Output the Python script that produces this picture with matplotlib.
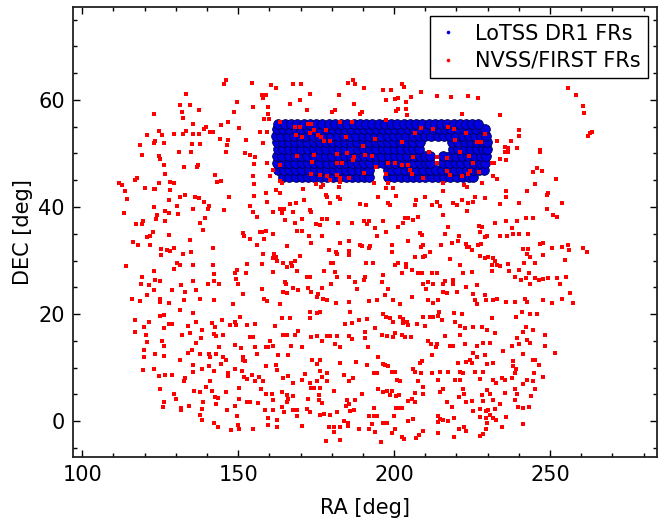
import matplotlib.pyplot as plt
from matplotlib.ticker import MultipleLocator

# LoTSS DR1 FRs: the dense HETDEX block, one list of RA per DEC row
lotss_dec_rows = [45.6, 46.9, 48.2, 49.5, 50.8, 52.1, 53.3, 54.5, 55.5]
lotss_ra_456 = [164.5, 166.4, 168.5, 170.4, 172.5, 174.4, 176.5, 178.6, 180.5, 182.4, 184.5, 186.6, 188.4, 190.5,
                191.8, 198.0, 200.0, 202.1, 204.0, 206.1, 208.0, 210.0, 212.1, 214.0, 216.1, 218.0, 220.1, 222.0,
                224.1, 225.3]
lotss_ra_469 = [162.8, 164.7, 166.6, 168.7, 170.6, 172.7, 174.6, 176.7, 178.6, 180.7, 182.6, 184.7, 186.6, 188.7,
                190.6, 192.0, 197.9, 199.4, 201.3, 203.4, 205.3, 207.4, 209.3, 211.4, 213.3, 215.4, 217.3, 219.4,
                221.3, 223.4, 225.3, 227.3, 228.8]
lotss_ra_482 = [162.4, 164.3, 166.4, 168.3, 170.4, 172.3, 174.4, 176.3, 178.4, 180.3, 182.4, 184.3, 186.4, 188.3,
                190.4, 192.3, 194.4, 196.3, 198.4, 200.3, 202.4, 204.3, 206.4, 208.3, 210.2, 211.4, 215.8, 217.6,
                219.7, 221.6, 223.7, 225.6, 227.7, 229.3]
lotss_ra_495 = [162.3, 164.2, 166.3, 168.2, 170.3, 172.2, 174.3, 176.2, 178.3, 180.2, 182.3, 184.2, 186.3, 188.2,
                190.3, 192.2, 194.3, 196.2, 198.3, 200.2, 202.3, 204.2, 206.3, 208.2, 210.0, 211.4, 215.8, 217.9,
                219.8, 221.9, 223.8, 225.9, 227.8, 229.6]
lotss_ra_508 = [162.8, 164.5, 166.2, 168.3, 170.2, 172.3, 174.2, 176.3, 178.2, 180.3, 182.2, 184.3, 186.2, 188.3,
                190.2, 192.3, 194.2, 196.3, 198.2, 200.3, 202.2, 204.3, 206.2, 208.0, 218.8, 220.5, 222.6, 224.5,
                226.6, 228.5, 229.8]
lotss_ra_521 = [162.6, 164.3, 166.2, 168.1, 170.2, 172.1, 174.2, 176.1, 178.2, 180.1, 182.2, 184.1, 186.2, 188.1,
                190.2, 192.1, 194.2, 196.1, 198.2, 200.1, 202.2, 204.1, 206.2, 208.3, 218.6, 220.5, 222.6, 224.5,
                226.6, 228.5, 229.8]
lotss_ra_533 = [162.0, 163.9, 166.0, 167.9, 170.0, 171.9, 174.0, 175.9, 178.0, 179.9, 182.0, 183.9, 186.0, 187.9,
                190.0, 191.9, 194.0, 195.9, 198.0, 199.9, 202.0, 203.9, 206.0, 207.9, 210.0, 211.9, 214.0, 215.9,
                218.0, 219.9, 222.0, 223.9, 226.0, 227.9, 229.6]
lotss_ra_545 = [162.3, 164.4, 166.3, 168.4, 170.3, 172.4, 174.3, 176.4, 178.3, 180.4, 182.3, 184.4, 186.3, 188.4,
                190.3, 192.4, 194.3, 196.4, 198.3, 200.4, 202.3, 204.4, 206.3, 208.4, 210.3, 212.4, 214.3, 216.4,
                218.3, 220.4, 222.3, 224.4, 226.3, 228.2, 229.3]
lotss_ra_555 = [162.8, 165.0, 167.1, 169.0, 171.1, 173.0, 175.1, 177.0, 179.1, 181.0, 183.1, 185.0, 187.1, 189.0,
                191.1, 193.0, 195.1, 197.0, 199.1, 201.0, 203.1, 205.0, 207.1, 209.0, 211.1, 213.0, 215.1, 217.0,
                219.1, 221.0, 223.1, 225.0, 227.0]
lotss_ra_rows = [lotss_ra_456, lotss_ra_469, lotss_ra_482, lotss_ra_495, lotss_ra_508,
                 lotss_ra_521, lotss_ra_533, lotss_ra_545, lotss_ra_555]

# NVSS/FIRST FRs as (RA, DEC) pairs, split by sky band
nvss_north = [(146.2, 63.7), (145.5, 63.0), (154.4, 63.2), (160.5, 62.8), (162.1, 62.3), (167.7, 63.0), (170.1, 63.0),
              (185.2, 63.2), (186.8, 63.7), (187.5, 63.0), (190.4, 62.3), (202.5, 63.0), (203.3, 62.5), (196.3, 61.9),
              (199.0, 61.9), (133.4, 61.2), (173.1, 61.2), (182.2, 60.9), (157.8, 60.9), (158.9, 60.9), (158.1, 60.3),
              (208.6, 61.4), (213.7, 60.7), (218.3, 60.5), (223.8, 60.7), (227.0, 60.3), (205.4, 60.5), (197.4, 60.0),
              (200.4, 60.1), (201.1, 60.4), (203.8, 59.7), (149.6, 59.7), (169.9, 60.0), (166.5, 59.2), (187.0, 59.2),
              (131.4, 59.1), (134.6, 59.1), (154.7, 58.6), (159.7, 58.6), (137.6, 58.2), (172.2, 58.2), (180.9, 58.2),
              (180.2, 57.7), (201.2, 58.4), (200.5, 57.9), (203.8, 58.3), (260.7, 58.9), (258.2, 60.9), (255.6, 62.3),
              (132.1, 57.8), (132.3, 56.6), (122.9, 57.3), (148.8, 57.8), (159.7, 57.3), (189.6, 57.8), (189.0, 57.3),
              (204.0, 57.2), (221.7, 57.3), (233.9, 57.1), (261.0, 57.6), (158.3, 56.4), (160.0, 56.4), (135.4, 55.5),
              (146.7, 55.8), (144.6, 55.4), (139.8, 54.9), (139.2, 54.5), (141.0, 54.0), (141.9, 54.0), (156.9, 54.0),
              (159.2, 54.0), (150.4, 54.7), (120.8, 53.4), (124.6, 54.2), (125.6, 53.4), (129.5, 53.6), (132.3, 53.6),
              (133.4, 54.2), (135.5, 53.6), (137.3, 53.6), (123.2, 52.4), (126.1, 52.0), (123.1, 51.9), (137.8, 51.8),
              (135.2, 51.8), (144.2, 52.7), (146.7, 52.5), (146.4, 51.6), (152.6, 52.5), (157.9, 52.0), (118.6, 51.5),
              (233.1, 52.3), (235.6, 51.3), (236.6, 51.0), (237.6, 52.3), (240.1, 54.3), (240.1, 53.3), (239.3, 51.0),
              (246.8, 50.6), (262.8, 53.8), (263.5, 54.1), (262.3, 53.3)]

nvss_in_lotss = [(163.5, 55.8), (168.1, 55.0), (169.7, 55.0), (172.3, 55.6), (173.3, 55.6), (168.6, 53.5), (170.6, 53.1),
                 (172.9, 53.9), (174.2, 54.4), (175.5, 53.5), (176.6, 53.1), (177.4, 52.4), (179.3, 52.4), (178.2, 54.4),
                 (182.7, 55.8), (186.4, 55.8), (184.6, 53.1), (189.9, 51.4), (193.9, 52.7), (197.3, 56.3), (202.5, 52.2),
                 (206.7, 53.8), (208.6, 54.7), (212.4, 54.6), (217.4, 54.9), (219.2, 54.6), (223.0, 53.8), (226.5, 52.2),
                 (229.2, 53.6), (227.9, 52.2), (219.5, 52.5), (213.9, 49.3), (213.9, 48.3),
                 (169.0, 49.5), (174.4, 49.7), (181.6, 49.9), (181.8, 48.2), (183.2, 48.3), (184.8, 50.0), (187.3, 49.3),
                 (186.7, 48.8), (190.7, 49.7), (192.8, 49.5), (173.6, 48.5), (163.5, 47.8), (173.4, 46.2), (176.1, 46.0),
                 (178.4, 45.7), (179.5, 45.0), (181.6, 46.0), (185.4, 45.4), (190.4, 46.4), (194.1, 47.4), (198.2, 48.3),
                 (200.3, 48.3), (202.5, 47.8), (204.6, 47.8), (205.1, 46.9), (205.7, 46.2), (197.4, 46.2), (206.2, 49.3),
                 (211.2, 50.3), (217.1, 49.1), (221.1, 50.3), (224.1, 49.5), (225.2, 48.3), (224.4, 46.8), (223.8, 46.2),
                 (227.2, 46.6), (221.7, 45.8), (217.9, 46.0), (217.1, 46.8), (209.4, 45.4)]

nvss_mid_north = [(215.8, 44.4), (182.5, 44.7), (119.2, 49.7), (124.6, 49.5), (124.8, 48.9), (126.1, 47.9), (130.9, 50.3),
                  (134.8, 50.3), (132.5, 47.4), (137.0, 47.9), (136.8, 47.4), (146.2, 50.3), (152.3, 50.0), (153.9, 49.7),
                  (155.5, 49.3), (155.1, 48.0), (159.2, 48.3), (161.3, 46.9), (160.1, 45.7), (154.7, 45.7), (163.5, 44.9),
                  (142.6, 46.0), (143.2, 44.7), (144.5, 44.9), (126.6, 46.2), (117.5, 45.4), (117.0, 45.0), (111.7, 44.4),
                  (112.7, 44.1), (113.8, 43.0), (120.0, 43.5), (122.9, 43.3), (123.4, 43.3), (124.5, 44.4), (128.2, 44.7),
                  (129.5, 44.4), (128.0, 43.2), (114.3, 41.5), (127.7, 41.3), (131.4, 41.9), (133.0, 42.2), (136.2, 41.9),
                  (137.3, 41.6), (138.9, 41.0), (147.2, 41.8), (155.2, 44.3), (155.1, 42.1), (158.9, 42.6), (162.2, 43.2),
                  (163.5, 42.6), (159.2, 41.0), (153.9, 40.2), (154.9, 39.1), (164.0, 44.4), (170.9, 43.3), (171.2, 41.3),
                  (166.5, 40.6), (168.5, 40.8), (175.0, 44.3), (176.5, 43.7), (177.1, 44.1), (178.2, 42.2), (178.6, 41.9),
                  (179.5, 40.7), (182.2, 43.7), (181.9, 41.9), (182.5, 41.5), (182.7, 45.4), (189.1, 40.6), (190.9, 40.4),
                  (193.6, 44.4), (195.0, 41.8), (197.9, 44.4), (197.4, 43.5), (199.6, 43.5), (200.5, 42.1), (198.7, 40.4),
                  (197.9, 40.8), (207.0, 41.3), (206.7, 40.4), (209.9, 41.9), (212.1, 40.4), (213.9, 41.0), (214.7, 40.2),
                  (215.8, 42.9), (219.0, 40.7), (220.3, 40.4), (221.7, 41.3), (222.5, 44.1), (223.5, 43.8), (223.8, 40.7),
                  (225.4, 41.0), (226.0, 41.8), (228.1, 44.4), (229.2, 41.6), (231.6, 45.7), (232.9, 45.2), (231.3, 48.2),
                  (232.1, 48.2), (234.0, 48.9), (235.9, 48.7), (233.8, 40.6), (235.9, 43.0), (235.9, 41.9), (236.6, 50.3),
                  (235.6, 50.2), (240.1, 40.8), (242.5, 42.9), (244.4, 46.6), (245.7, 47.2), (247.3, 46.8), (245.2, 44.3),
                  (249.5, 42.7), (249.0, 42.2), (251.9, 45.2), (253.8, 40.7), (249.0, 39.6), (246.8, 50.3),
                  (113.3, 38.9), (117.3, 36.9), (119.4, 37.4), (119.2, 36.8), (122.9, 40.0), (124.0, 38.5), (123.7, 37.7),
                  (126.6, 39.3), (127.9, 38.8), (126.6, 37.4), (130.4, 40.1), (130.6, 38.7), (135.5, 39.6), (137.8, 37.1),
                  (139.4, 37.9), (140.5, 40.1), (140.2, 39.7), (145.5, 39.4), (156.2, 38.2), (161.3, 39.1), (163.5, 39.7),
                  (164.6, 39.7), (164.2, 38.8), (167.7, 39.1), (172.9, 39.4), (173.4, 39.1), (170.4, 37.7), (165.1, 37.6),
                  (168.3, 37.1), (175.0, 36.9), (176.3, 36.6), (176.8, 37.7), (178.4, 37.7), (182.0, 37.1), (186.5, 37.1),
                  (190.4, 37.3), (191.3, 36.9), (191.8, 37.4), (196.4, 37.4), (193.9, 36.0), (201.4, 36.2), (203.5, 37.9),
                  (204.3, 37.9), (206.2, 37.6), (207.8, 38.2), (203.0, 37.1), (215.8, 38.5), (217.4, 36.2), (223.3, 39.3),
                  (227.2, 36.4), (228.1, 36.2), (232.3, 37.1), (235.9, 37.4), (239.3, 37.3), (242.3, 37.9), (244.4, 37.9),
                  (250.8, 38.5), (252.1, 38.1), (237.7, 36.0)]

nvss_mid = [(122.6, 35.4), (120.8, 34.3), (121.8, 34.5), (116.3, 33.5), (117.9, 32.9), (121.8, 32.9), (127.9, 34.8),
            (134.6, 33.9), (125.4, 32.1), (125.3, 31.0), (127.2, 32.0), (128.2, 31.7), (129.5, 32.3), (132.2, 31.2),
            (135.0, 31.5), (141.9, 32.3), (138.7, 35.7), (151.7, 35.1), (151.9, 34.5), (153.9, 34.1), (156.0, 32.9),
            (156.9, 35.4), (157.6, 35.4), (158.9, 35.6), (158.4, 34.0), (161.3, 35.0), (158.1, 31.2), (161.5, 31.2),
            (162.1, 30.7), (165.6, 32.7), (169.0, 35.6), (170.4, 35.6), (172.8, 34.5), (173.4, 33.2), (176.8, 34.5),
            (169.9, 30.8), (179.0, 32.0), (181.3, 31.5), (181.8, 31.2), (182.5, 33.2), (185.7, 33.7), (185.4, 31.7),
            (185.6, 31.0), (189.1, 32.9), (189.6, 32.7), (192.3, 32.7), (191.8, 32.3), (194.4, 34.5), (199.2, 32.9),
            (199.2, 31.5), (197.4, 35.4), (204.6, 33.7), (208.4, 35.1), (209.1, 34.8), (209.2, 32.9), (208.6, 32.6),
            (211.6, 31.5), (206.8, 30.7), (209.4, 30.6), (210.0, 30.8), (214.9, 32.9), (216.3, 35.0), (218.5, 33.2),
            (220.4, 33.7), (220.9, 34.6), (223.1, 33.1), (224.1, 32.5), (224.9, 32.0), (223.3, 32.6), (226.8, 32.9),
            (227.9, 33.1), (227.6, 35.4), (229.2, 34.3), (229.7, 34.6), (234.0, 34.5), (236.3, 34.5), (238.2, 35.0),
            (240.2, 35.0), (243.0, 35.0), (227.4, 30.8), (229.2, 30.4), (230.2, 30.6), (231.6, 30.4), (241.2, 32.1),
            (242.8, 32.1), (242.7, 31.2), (243.6, 30.6), (246.8, 33.1), (247.8, 33.2), (247.8, 31.0), (250.5, 32.3),
            (253.7, 32.5), (255.6, 32.9), (256.2, 32.0), (260.7, 32.3), (261.7, 31.5), (254.8, 30.1),
            (114.1, 29.0), (119.2, 27.0), (118.8, 25.7), (122.9, 28.1), (123.4, 26.4), (124.8, 26.1), (121.3, 25.4),
            (130.4, 29.5), (131.4, 29.2), (129.5, 28.5), (135.5, 29.2), (135.5, 26.1), (131.8, 25.4), (141.9, 29.2),
            (142.3, 27.5), (140.2, 25.7), (142.1, 26.1), (144.0, 25.6), (149.6, 28.2), (149.1, 27.7), (149.4, 26.5),
            (149.8, 25.7), (152.8, 29.3), (152.6, 27.6), (157.6, 29.3), (161.1, 30.4), (162.4, 30.0), (164.3, 29.6),
            (161.1, 27.9), (165.6, 28.8), (166.9, 29.6), (167.2, 29.0), (168.8, 28.1), (168.3, 30.0), (172.0, 26.9),
            (172.9, 26.9), (164.9, 25.9), (165.4, 25.6), (177.4, 28.1), (179.7, 29.6), (180.4, 29.6), (181.1, 27.9),
            (181.6, 27.0), (179.7, 25.7), (185.4, 26.9), (187.5, 25.9), (190.7, 26.9), (190.4, 26.4), (191.0, 29.6),
            (193.2, 29.6), (196.6, 27.3), (196.0, 26.0), (200.3, 29.2), (201.4, 29.5), (203.8, 29.3), (203.8, 28.8),
            (205.7, 28.3), (202.5, 27.6), (207.8, 27.7), (208.9, 27.7), (209.4, 25.6), (211.0, 25.9), (212.6, 25.7),
            (212.1, 27.6), (213.7, 27.7), (216.3, 26.2), (215.8, 25.7), (217.9, 30.2), (219.0, 26.4), (219.0, 25.7),
            (221.1, 29.2), (222.2, 27.6), (224.9, 27.9), (226.7, 25.4), (231.3, 29.2), (232.4, 30.0), (233.1, 29.2),
            (233.9, 29.0), (231.3, 28.1), (236.6, 29.3), (236.9, 28.1), (238.8, 27.0), (240.2, 28.3), (240.6, 26.4),
            (241.5, 29.6), (243.1, 27.7), (245.2, 29.5), (242.3, 26.7), (243.6, 25.7), (245.2, 26.7), (246.6, 26.4),
            (247.7, 26.5), (249.5, 26.7), (252.2, 26.7), (253.2, 25.7), (255.2, 26.9),
            (115.9, 22.9), (118.4, 22.5), (120.8, 23.6), (122.9, 24.5), (124.8, 22.9), (125.0, 22.3), (127.7, 22.1),
            (128.8, 24.5), (133.0, 24.2), (132.5, 22.6), (136.6, 24.5), (137.8, 22.9), (142.1, 22.7), (148.3, 21.9),
            (151.5, 23.7), (157.6, 24.6), (158.3, 22.9), (159.2, 22.5), (163.5, 21.9), (164.3, 24.2), (165.6, 23.9),
            (167.5, 24.8), (169.3, 24.5), (172.5, 24.8), (173.3, 24.2), (175.7, 23.7), (177.0, 24.8), (175.2, 23.1),
            (177.1, 22.9), (178.6, 22.6), (181.3, 22.1), (185.4, 22.3), (188.0, 24.6), (192.1, 22.5), (194.4, 22.7),
            (197.1, 23.6), (197.9, 24.6), (199.8, 22.7), (201.9, 21.9), (205.7, 23.2), (210.2, 24.6), (211.0, 22.6),
            (212.6, 22.1), (214.2, 22.6), (215.8, 24.2), (216.9, 24.0), (220.1, 24.2), (223.1, 25.0), (225.4, 23.7),
            (226.0, 22.6), (226.5, 21.9), (229.2, 23.6), (229.5, 22.6), (231.8, 22.6), (232.9, 22.9), (235.9, 22.3),
            (238.8, 22.3), (242.0, 22.9), (242.5, 22.3), (247.8, 22.6), (250.5, 22.0), (253.7, 22.9), (256.4, 24.0),
            (257.5, 22.0)]

nvss_mid_south = [(116.8, 18.9), (116.8, 16.7), (121.3, 18.6), (119.9, 17.5), (124.8, 19.6), (126.3, 19.8), (127.7, 18.1),
                  (128.8, 18.1), (126.1, 17.3), (131.4, 20.7), (135.5, 20.1), (133.8, 17.8), (136.6, 18.6), (138.4, 17.0),
                  (141.6, 18.3), (142.6, 17.6), (144.8, 18.9), (147.5, 17.9), (149.1, 18.6), (149.4, 17.9), (150.7, 19.4),
                  (152.8, 17.9), (155.5, 18.1), (161.9, 17.8), (164.0, 19.2), (166.7, 19.2), (169.3, 16.9), (172.9, 19.2),
                  (173.1, 20.3), (175.2, 20.1), (176.3, 20.3), (184.1, 18.1), (185.9, 20.3), (186.4, 18.3), (188.6, 18.8),
                  (191.3, 19.0), (193.9, 17.3), (196.4, 20.0), (197.4, 19.5), (198.7, 19.2), (199.8, 18.6), (201.9, 19.4),
                  (203.0, 19.0), (203.0, 18.3), (204.6, 17.9), (204.0, 18.6), (207.3, 18.1), (209.2, 19.5), (209.9, 17.8),
                  (211.5, 19.4), (212.6, 19.4), (214.2, 19.6), (215.3, 18.9), (214.5, 20.4), (219.3, 20.1), (221.7, 20.0),
                  (219.6, 18.6), (221.2, 17.8), (222.8, 17.3), (225.2, 17.5), (228.1, 17.5), (229.7, 17.1), (231.3, 19.2),
                  (239.1, 19.4), (240.9, 20.3), (243.6, 20.0), (245.7, 20.0), (242.3, 17.6), (244.4, 17.0), (241.4, 16.7),
                  (120.5, 16.1), (120.8, 14.8), (125.6, 15.0), (126.1, 14.0), (132.0, 16.1), (134.6, 16.4), (142.1, 16.3),
                  (143.0, 15.9), (145.3, 16.1), (138.1, 15.5), (136.6, 14.5), (149.1, 14.2), (150.9, 13.6), (153.7, 15.8),
                  (154.7, 15.8), (155.3, 13.9), (160.1, 15.0), (159.7, 13.8), (161.3, 14.0), (164.5, 16.1), (165.6, 16.1),
                  (168.3, 16.1), (166.9, 14.0), (170.4, 13.8), (173.3, 15.8), (175.2, 15.9), (176.8, 15.0), (178.4, 15.9),
                  (179.3, 15.9), (181.8, 15.9), (181.1, 14.4), (182.7, 13.9), (185.7, 15.9), (186.4, 15.3), (190.7, 16.7),
                  (190.7, 15.5), (191.5, 13.8), (196.0, 16.1), (197.6, 15.9), (200.3, 16.5), (199.8, 15.8), (202.5, 16.1),
                  (203.5, 15.8), (205.3, 15.8), (211.0, 15.0), (211.9, 14.4), (213.5, 13.8), (213.9, 14.4), (216.3, 15.9),
                  (218.0, 14.0), (219.0, 14.0), (221.2, 16.1), (222.8, 14.4), (226.5, 14.0), (228.6, 14.5), (230.7, 14.5),
                  (232.3, 16.4), (235.0, 13.0), (239.3, 15.5), (237.7, 14.0), (240.2, 14.4), (242.5, 15.1), (243.6, 14.5),
                  (248.4, 16.1), (248.4, 14.0), (251.6, 12.8), (244.4, 11.5), (245.2, 11.5), (246.6, 10.5), (247.8, 8.3),
                  (119.7, 13.2), (119.7, 11.9), (123.2, 12.6), (126.1, 12.2), (131.4, 11.4), (133.8, 12.8), (135.2, 13.2),
                  (137.8, 12.5), (140.5, 12.5), (141.0, 12.0), (143.0, 12.5), (144.0, 13.9), (145.1, 12.0), (146.2, 11.5),
                  (151.7, 12.0), (151.7, 11.4), (152.2, 11.3), (156.0, 12.5), (159.0, 13.8), (162.9, 12.3), (166.1, 12.3),
                  (173.6, 11.4), (176.3, 11.4), (175.4, 10.7), (182.7, 10.9), (187.8, 11.1), (195.0, 11.9), (196.4, 10.7),
                  (197.9, 10.2), (208.9, 11.3), (208.4, 10.8), (212.1, 12.3), (220.6, 10.9), (223.1, 11.1), (224.4, 11.4),
                  (224.9, 10.8), (225.4, 12.8), (226.5, 11.9), (229.2, 12.3), (229.7, 10.7), (231.6, 10.9), (238.2, 11.3),
                  (241.2, 12.6),
                  (119.5, 9.5), (123.1, 9.8), (124.5, 8.4), (126.6, 8.6), (128.8, 8.6), (132.5, 7.5), (133.0, 8.0),
                  (135.5, 10.5), (135.5, 9.2), (138.4, 9.7), (140.5, 10.3), (142.1, 9.4), (141.0, 7.5), (144.5, 10.7),
                  (146.9, 9.0), (146.9, 8.4), (149.1, 9.7), (151.2, 9.4), (151.9, 8.3), (152.8, 7.8), (154.4, 8.6),
                  (155.5, 7.5), (156.8, 8.2), (158.1, 7.5), (159.0, 10.3), (162.2, 10.5), (162.6, 9.5), (164.5, 8.0),
                  (166.1, 8.4), (167.5, 7.2), (170.4, 7.7), (171.5, 8.8), (173.1, 7.2), (176.3, 9.4), (176.8, 8.3),
                  (178.6, 8.9), (175.2, 7.4), (178.6, 7.5), (183.8, 8.6), (185.4, 7.4), (186.8, 8.0), (191.3, 10.5),
                  (193.4, 8.9), (194.4, 9.0), (197.1, 10.5), (199.2, 9.2), (200.3, 9.2), (200.9, 7.7), (201.9, 7.4),
                  (206.0, 9.8), (206.7, 9.2), (208.6, 8.9), (207.8, 7.4), (212.1, 8.9), (214.7, 9.2), (214.2, 7.7),
                  (217.4, 9.2), (219.6, 7.7), (221.2, 9.2), (222.2, 8.9), (221.2, 7.7), (225.9, 9.2), (227.5, 7.8),
                  (228.6, 9.2), (231.6, 7.7), (232.7, 7.2), (234.5, 8.0), (235.6, 7.7), (238.2, 10.2), (239.1, 9.7),
                  (238.8, 8.9), (237.7, 8.0), (242.5, 7.7), (244.7, 8.9), (244.4, 7.4), (241.4, 7.0)]

nvss_south = [(125.0, 6.0), (129.3, 5.0), (130.2, 4.1), (126.1, 3.5), (125.9, 2.7), (131.6, 2.4), (131.6, 2.0),
              (134.1, 2.9), (135.9, 5.6), (137.8, 5.5), (139.8, 6.4), (138.7, 3.5), (138.5, 2.2), (137.8, 1.1),
              (138.4, 0.2), (141.6, 5.6), (142.6, 4.5), (143.7, 4.4), (143.0, 3.1), (146.2, 5.5), (146.4, 2.1),
              (142.1, -0.3), (143.7, -1.1), (147.7, -1.7), (150.4, -1.5), (149.1, 2.9), (149.6, 1.0), (149.8, -0.8),
              (150.4, 4.1), (150.4, 6.2), (152.8, 3.6), (153.9, 3.6), (154.7, -1.5), (156.5, 3.3), (157.3, 6.0),
              (159.0, 5.0), (160.8, 5.0), (161.3, 3.9), (158.7, 2.1), (161.1, 2.1), (159.7, 0.5), (159.7, -0.8),
              (162.4, 0.2), (162.6, -1.2), (164.0, 5.4), (165.6, 4.9), (166.1, 4.2), (165.6, 3.6), (167.7, 4.7),
              (164.0, 2.7), (164.6, 1.7), (167.5, 2.1), (169.0, 2.1), (169.0, 1.0), (170.4, -0.9), (172.0, 2.2),
              (172.9, 1.6), (172.3, 4.1), (173.3, 6.2), (174.4, 6.2), (175.8, 4.9), (175.8, 3.9), (176.3, 6.2),
              (176.8, 3.3), (176.3, 1.2), (177.6, 1.4), (179.3, 1.2), (181.6, 1.7), (180.6, 5.6), (184.8, 3.9),
              (185.4, 3.1), (184.6, 2.9), (187.5, 3.9), (187.0, 2.1), (185.9, 1.9), (179.0, -1.1), (180.6, -1.1),
              (180.6, -2.0), (182.5, -1.2), (184.0, 0.0), (185.1, -0.3), (185.1, -0.9), (178.2, -3.7), (182.7, -3.5),
              (188.9, -1.5), (191.8, -1.5), (192.8, -0.6), (193.9, -2.0), (192.1, 1.0), (193.4, 1.0), (194.4, 1.0),
              (189.6, 5.0), (195.0, 6.0), (196.6, 5.4), (197.7, 5.6), (199.2, 5.6), (198.7, 4.9), (200.6, 4.7),
              (201.7, 4.9), (193.6, 2.5), (196.3, -0.3), (197.6, -0.3), (195.7, -4.0), (200.6, 2.5), (201.7, 2.5),
              (202.5, 2.5), (200.0, 1.0), (200.3, -1.5), (202.5, -2.9), (203.2, -3.4), (199.2, -2.3), (204.6, 3.7),
              (205.7, 4.1), (206.8, 3.5), (206.8, 5.2), (209.2, 5.0), (204.6, 0.0), (206.0, 0.4), (207.0, -3.1),
              (208.1, -2.6), (209.4, -1.9), (209.4, 6.4), (214.2, 1.0), (214.2, -0.1), (215.8, 0.2), (217.4, 0.0),
              (214.7, 0.4), (214.7, 5.5), (215.8, 6.0), (216.9, 3.6), (218.5, 2.7), (219.2, 0.6), (214.2, -2.3),
              (219.2, -2.9), (220.9, -1.5), (222.4, -1.2), (223.1, -1.9), (220.9, 4.5), (222.4, 5.0), (222.2, 6.0),
              (223.1, 3.6), (224.9, 3.7), (225.2, 1.9), (227.5, 2.2), (229.5, 1.9), (230.2, 2.1), (232.3, 2.2),
              (227.5, 0.8), (229.5, 0.6), (230.7, 1.2), (231.6, 0.5), (232.7, 0.2), (228.1, 4.9), (228.4, 3.7),
              (230.7, 5.0), (231.6, 3.9), (229.7, 5.8), (227.5, -2.7), (228.6, -2.5), (229.5, -1.5), (229.7, -0.4),
              (234.5, -1.1), (235.9, 0.8), (233.8, 3.1), (235.6, 5.2), (238.8, 3.9), (239.8, 2.7), (241.4, 2.5),
              (243.4, 2.7), (243.8, 4.7), (245.2, 6.0), (241.4, -0.6), (238.8, 6.0), (239.3, 5.0)]

nvss_bands = [nvss_north, nvss_in_lotss, nvss_mid_north, nvss_mid, nvss_mid_south, nvss_south]

plt.rcParams['font.family'] = 'DejaVu Sans'
plt.rcParams['font.size'] = 15
plt.rcParams['xtick.direction'] = 'in'
plt.rcParams['ytick.direction'] = 'in'

fig = plt.figure(figsize=(6.59, 5.27), dpi=100)
ax = fig.add_axes([0.111, 0.133, 0.886, 0.854])

# blue block first so the red sources sit on top
lotss_ra = []
lotss_dec = []
for dec, ras in zip(lotss_dec_rows, lotss_ra_rows):
    lotss_ra += ras
    lotss_dec += [dec] * len(ras)
ax.plot(lotss_ra, lotss_dec, 'o', color='#0000e0', markersize=7, markeredgecolor='#000050',
        markeredgewidth=0.6, label='LoTSS DR1 FRs', zorder=2)

nvss_ra = [p[0] for band in nvss_bands for p in band]
nvss_dec = [p[1] for band in nvss_bands for p in band]
ax.plot(nvss_ra, nvss_dec, 's', color='red', markersize=3.4, markeredgewidth=0,
        label='NVSS/FIRST FRs', zorder=3)

ax.set_xlim(97.1, 284.3)
ax.set_ylim(-6.7, 77.4)
ax.xaxis.set_major_locator(MultipleLocator(50))
ax.xaxis.set_minor_locator(MultipleLocator(10))
ax.yaxis.set_major_locator(MultipleLocator(20))
ax.yaxis.set_minor_locator(MultipleLocator(5))
ax.tick_params(which='both', top=True, right=True, width=1.0)
ax.tick_params(which='major', length=5, pad=6)
ax.tick_params(which='minor', length=3)
for s in ax.spines.values():
    s.set_linewidth(1.3)
    s.set_color('#222222')

ax.set_xlabel('RA [deg]', labelpad=9)
ax.set_ylabel('DEC [deg]', labelpad=4)

leg = ax.legend(loc='upper right', numpoints=1, fancybox=False,
                edgecolor='black', framealpha=1, borderaxespad=0.45, handlelength=1.0,
                handletextpad=0.8, labelspacing=0.35, borderpad=0.35)
leg.get_frame().set_linewidth(1.0)
for h in leg.legend_handles:
    h.set_marker('o')
    h.set_markersize(2.6)
    h.set_markeredgewidth(0)

fig.savefig('out.png', dpi=100)
